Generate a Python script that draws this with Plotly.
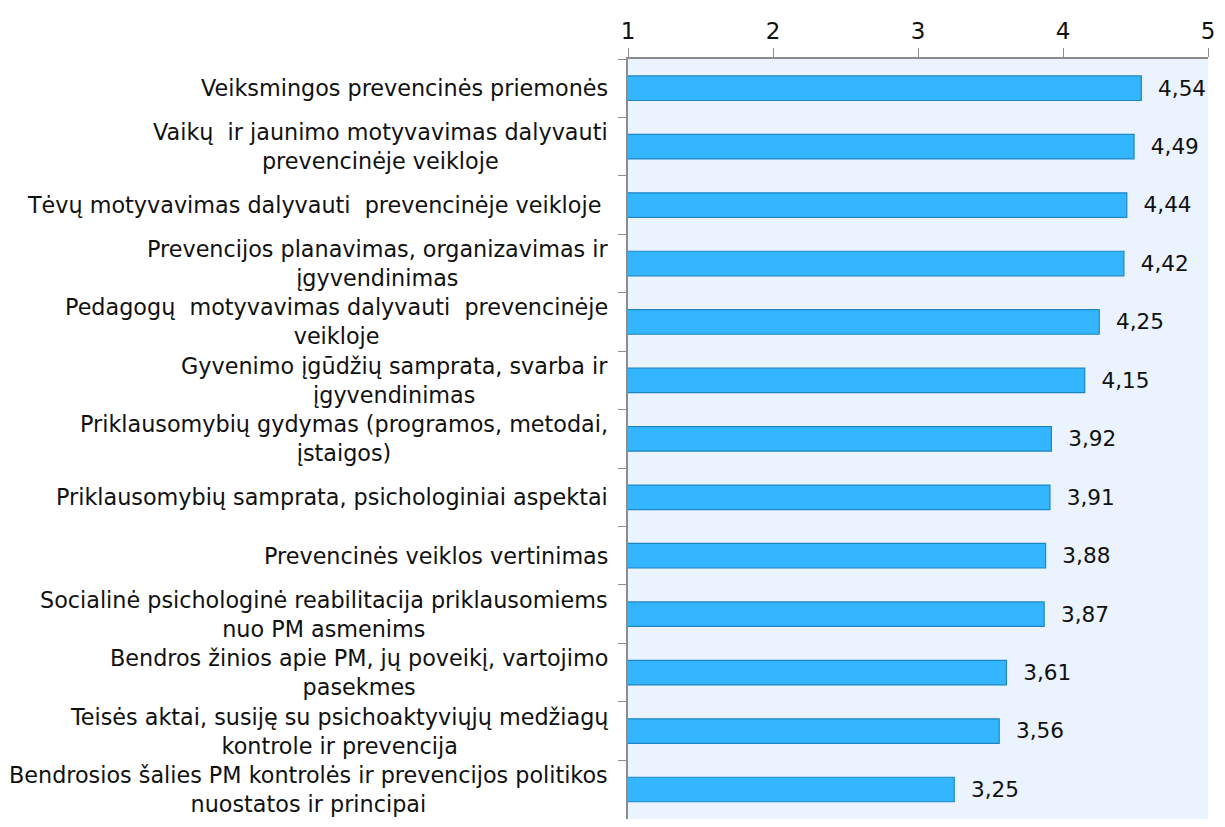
import plotly.graph_objects as go

categories = [
    "Veiksmingos prevencinės priemonės",
    "Vaikų  ir jaunimo motyvavimas dalyvauti<br>prevencinėje veikloje",
    "Tėvų motyvavimas dalyvauti  prevencinėje veikloje ",
    "Prevencijos planavimas, organizavimas ir<br>įgyvendinimas",
    "Pedagogų  motyvavimas dalyvauti  prevencinėje<br>veikloje",
    "Gyvenimo įgūdžių samprata, svarba ir<br>įgyvendinimas",
    "Priklausomybių gydymas (programos, metodai,<br>įstaigos)",
    "Priklausomybių samprata, psichologiniai aspektai",
    "Prevencinės veiklos vertinimas",
    "Socialinė psichologinė reabilitacija priklausomiems<br>nuo PM asmenims",
    "Bendros žinios apie PM, jų poveikį, vartojimo<br>pasekmes",
    "Teisės aktai, susiję su psichoaktyviųjų medžiagų<br>kontrole ir prevencija",
    "Bendrosios šalies PM kontrolės ir prevencijos politikos<br>nuostatos ir principai",
]
values = [4.54, 4.49, 4.44, 4.42, 4.25, 4.15, 3.92, 3.91, 3.88, 3.87, 3.61, 3.56, 3.25]
x_ticks = [1, 2, 3, 4, 5]

FONT = "DejaVu Sans"

fig = go.Figure()
fig.add_trace(go.Bar(
    x=values,
    y=categories,
    orientation="h",
    width=0.42,
    marker=dict(color="#33B5FF", line=dict(color="#1F86C6", width=1.2)),
    texttemplate="\u00a0\u00a0%{x:.2f}",
    textposition="outside",
    textfont=dict(family=FONT, size=22, color="#111111"),
    cliponaxis=False,
    showlegend=False,
))

for cat in categories:
    fig.add_annotation(
        x=0, xref="paper", y=cat, yref="y",
        text=cat, showarrow=False,
        xanchor="right", yanchor="middle", align="center",
        xshift=-18,
        font=dict(family=FONT, size=22.3, color="#111111"),
    )

# the page body adds an 8px margin around the figure
fig.update_layout(
    width=1209, height=811,
    margin=dict(l=620, r=9, t=51, b=0),
    paper_bgcolor="white",
    plot_bgcolor="#EAF3FE",
    separators=",.",
    xaxis=dict(
        range=[1, 5], side="top", tickvals=x_ticks,
        ticks="outside", ticklen=9, tickcolor="#8c8c8c",
        showline=True, linecolor="#8c8c8c", linewidth=1.5,
        showgrid=False, zeroline=False,
        ticklabeloverflow="allow",
        tickfont=dict(family=FONT, size=23, color="#111111"),
    ),
    yaxis=dict(
        autorange="reversed", type="category",
        tickson="boundaries", ticks="outside", ticklen=8, tickcolor="#8c8c8c",
        showline=True, linecolor="#8c8c8c", linewidth=1.5,
        showticklabels=False, showgrid=False,
    ),
)

fig.write_html("out.html")
